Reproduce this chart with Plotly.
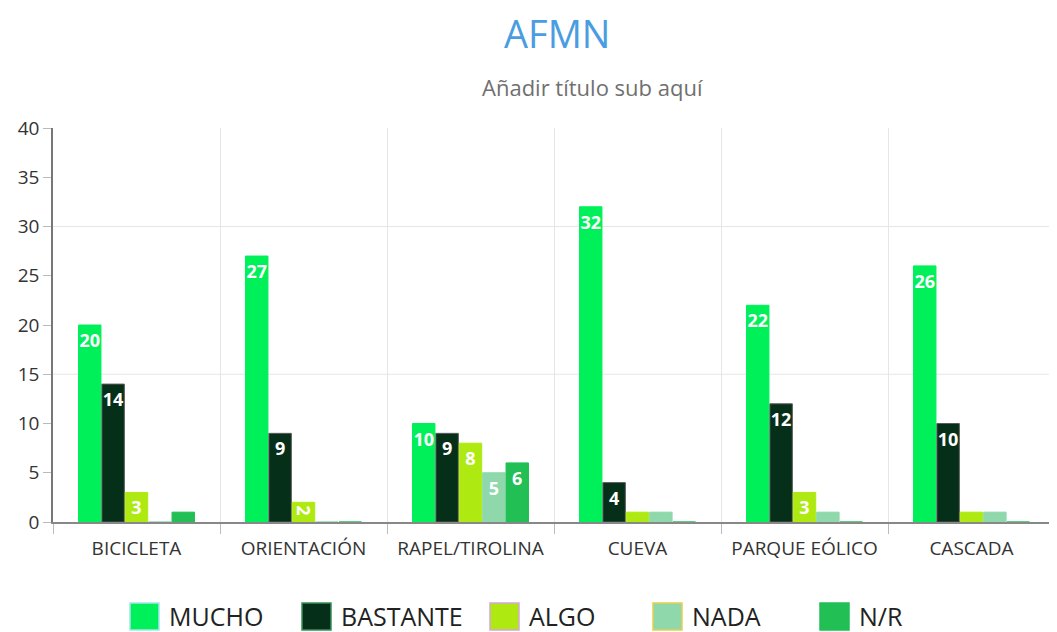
import plotly.graph_objects as go

categories = ["BICICLETA", "ORIENTACIÓN", "RAPEL/TIROLINA", "CUEVA", "PARQUE EÓLICO", "CASCADA"]
series_names = ["MUCHO", "BASTANTE", "ALGO", "NADA", "N/R"]
mucho = [20, 27, 10, 32, 22, 26]
bastante = [14, 9, 9, 4, 12, 10]
algo = [3, 2, 8, 1, 3, 1]
nada = [0, 0, 5, 1, 1, 1]
nr = [1, 0, 6, 0, 0, 0]
values = [mucho, bastante, algo, nada, nr]
y_ticks = [0, 5, 10, 15, 20, 25, 30, 35, 40]

colors = ["#00F05A", "#062F19", "#AEEA12", "#8ED8AC", "#22BF55"]
edge = ["#A6E4EE", "#3A8F5A", "#D6A6D6", "#E6CF4A", "#22BF55"]
bar_edge = ["#00F05A", "#5A5A5A", "#AEEA12", "#8ED8AC", "#22BF55"]

W, H = 1057, 632
ML, MR, MT, MB = 45, 10, 120, 118
OFF = 8  # page offset of the figure
PW, PH = W - ML - MR, H - MT - MB


def px(x):
    return (x - OFF - ML) / PW


def py(y):
    return (H - MB - (y - OFF)) / PH


font = "Open Sans"
fig = go.Figure()
for name, vals, c, be in zip(series_names, values, colors, bar_edge):
    fig.add_trace(go.Bar(
        x=categories, y=vals, name=name, showlegend=False,
        marker=dict(color=c, line=dict(color=be, width=1)),
        text=[str(v) if v >= 2 else "" for v in vals],
        textposition="inside", insidetextanchor="end", constraintext="none",
        textfont=dict(family=font, size=18, color="white", weight="bold"),
        cliponaxis=False,
    ))

for gv in [15, 30]:
    fig.add_shape(type="line", xref="paper", yref="y", x0=0, x1=1, y0=gv, y1=gv,
                  line=dict(color="#E6E6E6", width=1), layer="below")

# manual legend (large swatches)
legend_icon_x = [130, 302, 490, 653, 820]
for name, c, e, lx in zip(series_names, colors, edge, legend_icon_x):
    fig.add_shape(type="rect", xref="paper", yref="paper",
                  x0=px(lx), x1=px(lx + 29), y0=py(630), y1=py(603),
                  fillcolor=c, line=dict(color=e, width=1.5))
    fig.add_annotation(text=name, xref="paper", yref="paper", x=px(lx + 37), y=py(616),
                       xanchor="left", yanchor="middle", showarrow=False,
                       font=dict(size=25, color="#222222", family=font))

fig.add_annotation(text="AFMN", xref="paper", yref="paper", x=px(557), y=py(33),
                   xanchor="center", yanchor="middle", showarrow=False,
                   font=dict(size=38, color="#4A9DE0", family=font))
fig.add_annotation(text="Añadir título sub aquí", xref="paper", yref="paper", x=px(592), y=py(87),
                   xanchor="center", yanchor="middle", showarrow=False,
                   font=dict(size=22, color="#707070", family=font))

fig.update_layout(
    width=W, height=H,
    paper_bgcolor="white", plot_bgcolor="white",
    margin=dict(l=ML, r=MR, t=MT, b=MB),
    barmode="group", bargap=0.3, bargroupgap=0.04,
    font=dict(family=font, color="#333333"),
    showlegend=False,
    xaxis=dict(
        showgrid=True, gridcolor="#E6E6E6", tickson="boundaries",
        ticks="outside", ticklen=10, tickcolor="#BBBBBB",
        showline=True, linecolor="#888888", linewidth=1.5,
        tickfont=dict(size=19, color="#333333"), ticklabelstandoff=8,
    ),
    yaxis=dict(
        range=[0, 40], tickvals=y_ticks, showgrid=False, zeroline=False,
        ticks="outside", ticklen=8, tickcolor="#BBBBBB",
        showline=True, linecolor="#777777", linewidth=1.5,
        tickfont=dict(size=19, color="#333333"),
    ),
)
fig.write_html("out.html")
